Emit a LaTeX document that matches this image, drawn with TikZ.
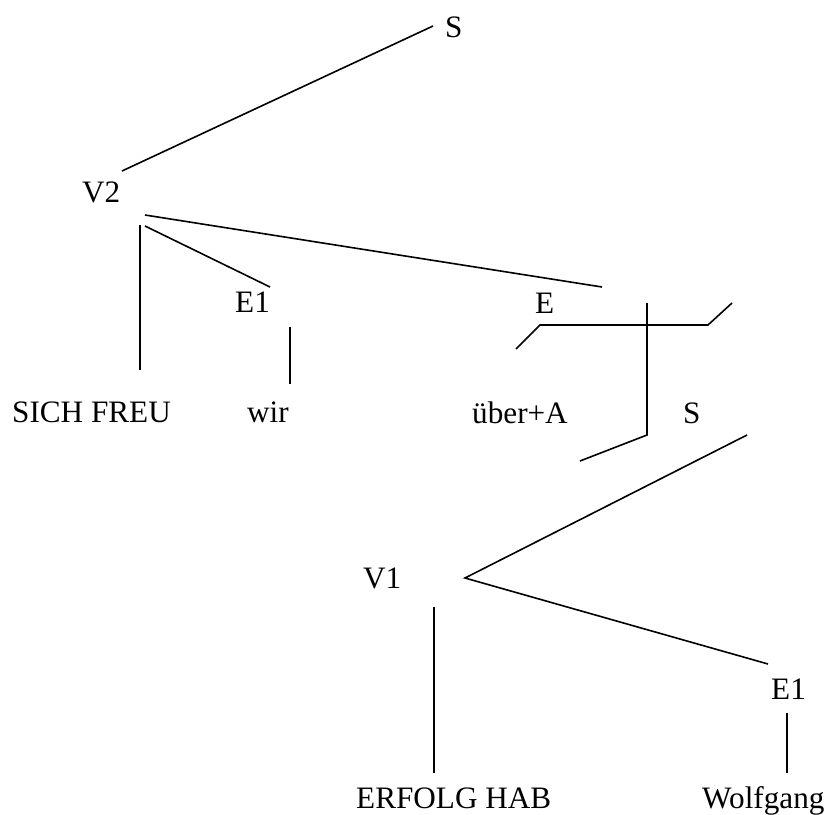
\documentclass[tikz,border=0pt]{standalone}
\usepackage{fontspec}
\setmainfont{Liberation Serif}
\begin{document}
\begin{tikzpicture}[x=1pt,y=-1pt,
  lbl/.style={anchor=base west,inner sep=0pt,font=\fontsize{31.2}{37}\selectfont},
  edge/.style={line width=1.6pt}]
\useasboundingbox (0,0) rectangle (827,814);
% labels
\node[lbl] (S) at (445,37) {S};
\node[lbl] (V2) at (82,202) {V2};
\node[lbl] (E1a) at (235,312) {E1};
\node[lbl] (sich) at (12,422) {SICH FREU};
\node[lbl] (wir) at (247,422) {wir};
\node[lbl] (E) at (535,313) {E};
\node[lbl] (ueber) at (472,423) {über+A};
\node[lbl] (S2) at (683,423) {S};
\node[lbl] (V1) at (363,588) {V1};
\node[lbl] (E1b) at (771,699) {E1};
\node[lbl] (erfolg) at (356,808) {ERFOLG HAB};
\node[lbl] (wolf) at (702,808) {Wolfgang};
% connector end points
\coordinate (sV2a) at (433,26);  \coordinate (sV2b) at (122,171);
\coordinate (v2r) at (145,215);  \coordinate (ovr) at (602,287);
\coordinate (v2d1) at (140,225); \coordinate (v2d2) at (140,370);
\coordinate (v2e) at (145,226);  \coordinate (e1t) at (270,287);
\coordinate (w1) at (290,327);   \coordinate (w2) at (290,384);
\coordinate (bl) at (516,349);   \coordinate (bm1) at (540,325);
\coordinate (bm2) at (708,325);  \coordinate (br) at (732,303);
\coordinate (vt) at (647,303);   \coordinate (vb) at (647,435);
\coordinate (vl) at (580,461);
\coordinate (s2) at (747,435);   \coordinate (v1r) at (465,578);
\coordinate (e1b) at (768,664);
\coordinate (v1a) at (434,607);  \coordinate (v1b) at (434,773);
\coordinate (wo1) at (787,713);  \coordinate (wo2) at (787,773);
% connectors
\draw[edge] (sV2a) -- (sV2b);
\draw[edge] (v2r) -- (ovr);
\draw[edge] (v2d1) -- (v2d2);
\draw[edge] (v2e) -- (e1t);
\draw[edge] (w1) -- (w2);
\draw[edge] (bl) -- (bm1) -- (bm2) -- (br);
\draw[edge] (vt) -- (vb) -- (vl);
\draw[edge] (s2) -- (v1r) -- (e1b);
\draw[edge] (v1a) -- (v1b);
\draw[edge] (wo1) -- (wo2);
\end{tikzpicture}
\end{document}
